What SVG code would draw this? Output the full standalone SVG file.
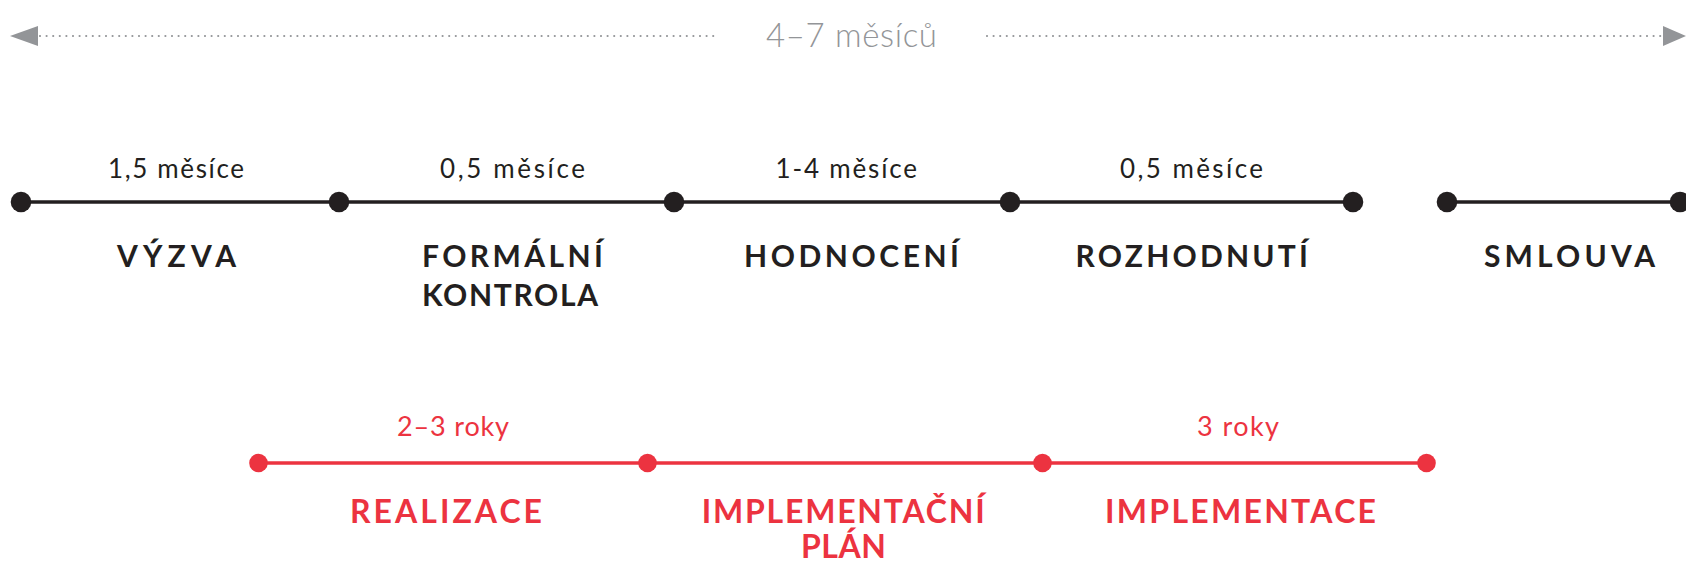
<svg xmlns="http://www.w3.org/2000/svg" width="1686" height="562" viewBox="0 0 1686 562">
<style>
.bg{fill:#ffffff}
.dur{font-family:Lato,"Open Sans","Liberation Sans",sans-serif;font-weight:400;font-size:26px}
.name{font-family:Lato,"Open Sans","Liberation Sans",sans-serif;font-weight:700;font-size:30px}
.black{fill:#231f20}
.red{fill:#ec3340}
.grey{fill:#939598}
.bline{stroke:#231f20;stroke-width:3.5;fill:none}
.rline{stroke:#ec3340;stroke-width:3.5;fill:none}
.dots{stroke:#939598;stroke-width:2.2;stroke-linecap:round;stroke-dasharray:0 6.6;fill:none}
</style>
<rect class="bg" x="0" y="0" width="1686" height="562"/>
<g id="connectors">
  <line class="dots" x1="40" y1="36" x2="716" y2="36"/>
  <line class="dots" x1="987" y1="36" x2="1661" y2="36"/>
  <polygon class="grey" points="10,36 38,26 38,46"/>
  <polygon class="grey" points="1686,36 1663,26 1663,46"/>
  <line class="bline" x1="21" y1="202" x2="1354" y2="202"/>
  <line class="bline" x1="1447" y1="202" x2="1680" y2="202"/>
  <line class="rline" x1="259" y1="463" x2="1427" y2="463"/>
</g>
<g id="total">
  <text class="dur grey" x="766" y="47" style="font-size:33px;font-weight:300" textLength="171">4–7 měsíců</text>
</g>
<g id="dots-black" class="black">
  <circle cx="21" cy="202" r="10.3"/>
  <circle cx="339" cy="202" r="10.3"/>
  <circle cx="674" cy="202" r="10.3"/>
  <circle cx="1010" cy="202" r="10.3"/>
  <circle cx="1353" cy="202" r="10.3"/>
  <circle cx="1447" cy="202" r="10.3"/>
  <circle cx="1680" cy="202" r="10.3"/>
</g>
<g id="dots-red" class="red">
  <circle cx="258.5" cy="463" r="9.3"/>
  <circle cx="647.5" cy="463" r="9.3"/>
  <circle cx="1042.5" cy="463" r="9.3"/>
  <circle cx="1426.5" cy="463" r="9.3"/>
</g>
<g id="vyzva">
  <text class="dur black" x="108" y="178" textLength="136">1,5 měsíce</text>
  <text class="name black" x="117" y="267" textLength="119">VÝZVA</text>
</g>
<g id="formalni-kontrola">
  <text class="dur black" x="440" y="178" textLength="145">0,5 měsíce</text>
  <text class="name black" x="422" y="267" textLength="181">FORMÁLNÍ</text>
  <text class="name black" x="422" y="306" textLength="176">KONTROLA</text>
</g>
<g id="hodnoceni">
  <text class="dur black" x="775.5" y="178" textLength="141.5">1-4 měsíce</text>
  <text class="name black" x="744" y="267" textLength="215">HODNOCENÍ</text>
</g>
<g id="rozhodnuti">
  <text class="dur black" x="1120" y="178" textLength="143">0,5 měsíce</text>
  <text class="name black" x="1075.5" y="267" textLength="232.5">ROZHODNUTÍ</text>
</g>
<g id="smlouva">
  <text class="name black" x="1484" y="267" textLength="171">SMLOUVA</text>
</g>
<g id="realizace">
  <text class="dur red" x="397" y="436" style="font-size:27px" textLength="112">2–3 roky</text>
  <text class="name red" x="350" y="523" style="font-size:32px" textLength="192">REALIZACE</text>
</g>
<g id="implementacni-plan">
  <text class="name red" x="701.7" y="522.5" style="font-size:32px" textLength="283">IMPLEMENTAČNÍ</text>
  <text class="name red" x="801" y="558" style="font-size:32px" textLength="85">PLÁN</text>
</g>
<g id="implementace">
  <text class="dur red" x="1197" y="436" style="font-size:27px" textLength="82">3 roky</text>
  <text class="name red" x="1105" y="523" style="font-size:32px" textLength="271">IMPLEMENTACE</text>
</g>
</svg>
